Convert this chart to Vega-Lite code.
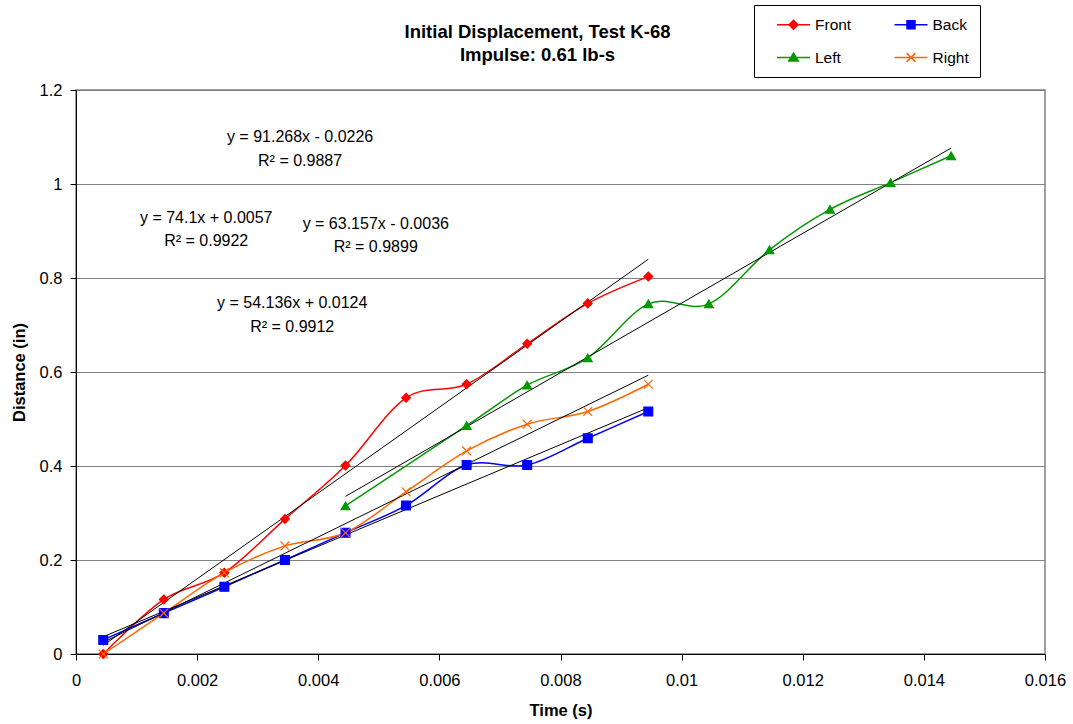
{
  "$schema": "https://vega.github.io/schema/vega-lite/v6.json",
  "width": 969,
  "height": 564,
  "autosize": {"type": "none"},
  "padding": {"left": 76, "top": 90, "right": 28, "bottom": 70},
  "background": "white",
  "config": {
    "font": "Liberation Sans",
    "view": {"stroke": "#808080", "strokeWidth": 1.5}
  },
  "title": {
    "text": ["Initial Displacement, Test K-68", "Impulse: 0.61 lb-s"],
    "anchor": "middle",
    "dx": -23,
    "offset": -60,
    "fontSize": 18.5,
    "font": "Liberation Sans",
    "fontWeight": "bold",
    "color": "black",
    "lineHeight": 23
  },
  "datasets": {
    "obs": [
      {"series": "Front", "t": 0.00045, "d": 0},
      {"series": "Front", "t": 0.00145, "d": 0.116},
      {"series": "Front", "t": 0.00245, "d": 0.173},
      {"series": "Front", "t": 0.00345, "d": 0.287},
      {"series": "Front", "t": 0.00445, "d": 0.401},
      {"series": "Front", "t": 0.00545, "d": 0.545},
      {"series": "Front", "t": 0.00645, "d": 0.574},
      {"series": "Front", "t": 0.00745, "d": 0.66},
      {"series": "Front", "t": 0.00845, "d": 0.746},
      {"series": "Front", "t": 0.00945, "d": 0.803},
      {"series": "Back", "t": 0.00045, "d": 0.03},
      {"series": "Back", "t": 0.00145, "d": 0.087},
      {"series": "Back", "t": 0.00245, "d": 0.143},
      {"series": "Back", "t": 0.00345, "d": 0.2},
      {"series": "Back", "t": 0.00445, "d": 0.258},
      {"series": "Back", "t": 0.00545, "d": 0.316},
      {"series": "Back", "t": 0.00645, "d": 0.402},
      {"series": "Back", "t": 0.00745, "d": 0.402},
      {"series": "Back", "t": 0.00845, "d": 0.459},
      {"series": "Back", "t": 0.00945, "d": 0.516},
      {"series": "Left", "t": 0.00445, "d": 0.315},
      {"series": "Left", "t": 0.00645, "d": 0.486},
      {"series": "Left", "t": 0.00745, "d": 0.572},
      {"series": "Left", "t": 0.00845, "d": 0.63},
      {"series": "Left", "t": 0.00945, "d": 0.745},
      {"series": "Left", "t": 0.01045, "d": 0.745},
      {"series": "Left", "t": 0.01145, "d": 0.86},
      {"series": "Left", "t": 0.01245, "d": 0.946},
      {"series": "Left", "t": 0.01345, "d": 1.003},
      {"series": "Left", "t": 0.01445, "d": 1.06},
      {"series": "Right", "t": 0.00045, "d": 0},
      {"series": "Right", "t": 0.00145, "d": 0.087},
      {"series": "Right", "t": 0.00245, "d": 0.173},
      {"series": "Right", "t": 0.00345, "d": 0.23},
      {"series": "Right", "t": 0.00445, "d": 0.258},
      {"series": "Right", "t": 0.00545, "d": 0.345},
      {"series": "Right", "t": 0.00645, "d": 0.432},
      {"series": "Right", "t": 0.00745, "d": 0.489},
      {"series": "Right", "t": 0.00845, "d": 0.516},
      {"series": "Right", "t": 0.00945, "d": 0.574}
    ],
    "trend": [
      {"series": "Front", "t": 0.00045, "d": 0.0185},
      {"series": "Front", "t": 0.00945, "d": 0.8399},
      {"series": "Back", "t": 0.00045, "d": 0.0368},
      {"series": "Back", "t": 0.00945, "d": 0.524},
      {"series": "Left", "t": 0.00445, "d": 0.3354},
      {"series": "Left", "t": 0.01445, "d": 1.0765},
      {"series": "Right", "t": 0.00045, "d": 0.0248},
      {"series": "Right", "t": 0.00945, "d": 0.5932}
    ],
    "eqs": [
      {"t": 0.0037, "d": 1.1, "label": "y = 91.268x - 0.0226\nR² = 0.9887"},
      {"t": 0.00215, "d": 0.9277, "label": "y = 74.1x + 0.0057\nR² = 0.9922"},
      {"t": 0.00495, "d": 0.9149, "label": "y = 63.157x - 0.0036\nR² = 0.9899"},
      {"t": 0.00357, "d": 0.7468, "label": "y = 54.136x + 0.0124\nR² = 0.9912"}
    ]
  },
  "resolve": {"scale": {"shape": "independent", "color": "independent", "stroke": "independent"}},
  "layer": [
    {
      "data": {"name": "obs"},
      "mark": {"type": "line", "interpolate": "cardinal", "strokeWidth": 1.5},
      "encoding": {
        "x": {
          "field": "t", "type": "quantitative",
          "scale": {"domain": [0, 0.016], "nice": false, "zero": false},
          "axis": {
            "title": "Time (s)",
            "values": [0, 0.002, 0.004, 0.006, 0.008, 0.01, 0.012, 0.014, 0.016],
            "format": "~g",
            "grid": false,
            "domainColor": "black", "tickColor": "black",
            "tickSize": 6, "labelPadding": 12,
            "labelFontSize": 16.5, "labelColor": "black", "labelFont": "Liberation Sans",
            "labelFlush": false,
            "titleFontSize": 16.5, "titleFontWeight": "bold", "titleColor": "black",
            "titleFont": "Liberation Sans", "titlePadding": 14
          }
        },
        "y": {
          "field": "d", "type": "quantitative",
          "scale": {"domain": [0, 1.2], "nice": false},
          "axis": {
            "title": "Distance (in)",
            "values": [0, 0.2, 0.4, 0.6, 0.8, 1, 1.2],
            "format": "~g",
            "grid": true, "gridColor": "#808080", "gridWidth": 1, "gridOpacity": 1,
            "domainColor": "black", "tickColor": "black",
            "tickSize": 6, "labelPadding": 8,
            "labelFontSize": 16.5, "labelColor": "black", "labelFont": "Liberation Sans",
            "labelFlush": false,
            "titleFontSize": 16.5, "titleFontWeight": "bold", "titleColor": "black",
            "titleFont": "Liberation Sans", "titlePadding": 12
          }
        },
        "color": {
          "field": "series", "type": "nominal",
          "scale": {"domain": ["Front", "Back", "Left", "Right"], "range": ["#FF0000", "#0000FF", "#009900", "#FF6600"]},
          "legend": null
        }
      }
    },
    {
      "data": {"name": "trend"},
      "mark": {"type": "line", "color": "black", "strokeWidth": 1},
      "encoding": {
        "x": {"field": "t", "type": "quantitative"},
        "y": {"field": "d", "type": "quantitative"},
        "detail": {"field": "series", "type": "nominal"}
      }
    },
    {
      "data": {"name": "obs"},
      "mark": {"type": "point", "filled": true, "size": 78, "strokeWidth": 1.2, "opacity": 1},
      "encoding": {
        "x": {"field": "t", "type": "quantitative"},
        "y": {"field": "d", "type": "quantitative"},
        "color": {
          "field": "series", "type": "nominal",
          "scale": {"domain": ["Front", "Back", "Left", "Right"], "range": ["#FF0000", "#0000FF", "#009900", "#FF6600"]},
          "legend": null
        },
        "stroke": {
          "field": "series", "type": "nominal",
          "scale": {"domain": ["Front", "Back", "Left", "Right"], "range": ["#FF0000", "#0000FF", "#009900", "#FF6600"]},
          "legend": null
        },
        "shape": {
          "field": "series", "type": "nominal",
          "scale": {"domain": ["Front", "Back", "Left", "Right"], "range": ["diamond", "square", "triangle-up", "M-1,-1L1,1M-1,1L1,-1"]},
          "legend": null
        }
      }
    },
    {
      "data": {"name": "obs"},
      "mark": {"type": "point", "filled": true, "opacity": 0, "strokeWidth": 1.5},
      "encoding": {
        "x": {"field": "t", "type": "quantitative"},
        "y": {"field": "d", "type": "quantitative"},
        "color": {
          "field": "series", "type": "nominal",
          "scale": {"domain": ["Front", "Back", "Left", "Right"], "range": ["#FF0000", "#0000FF", "#009900", "#FF6600"]},
          "legend": {
            "title": null,
            "orient": "none",
            "legendX": 678,
            "legendY": -85,
            "direction": "horizontal",
            "columns": 2,
            "strokeColor": "black",
            "fillColor": "white",
            "padding": 10.5,
            "symbolSize": 256,
            "symbolOffset": 20,
            "labelOffset": 12.5,
            "columnPadding": 30.5,
            "rowPadding": 15,
            "symbolStrokeWidth": 1.5,
            "symbolOpacity": 1,
            "labelFontSize": 15.5,
            "labelFont": "Liberation Sans",
            "labelColor": "black",
            "labelExpr": "datum.label === 'Back' || datum.label === 'Right' ? datum.label + '      ' : datum.label"
          }
        },
        "stroke": {
          "field": "series", "type": "nominal",
          "scale": {"domain": ["Front", "Back", "Left", "Right"], "range": ["#FF0000", "#0000FF", "#009900", "#FF6600"]},
          "legend": {
            "title": null,
            "orient": "none",
            "legendX": 678,
            "legendY": -85,
            "direction": "horizontal",
            "columns": 2,
            "strokeColor": "black",
            "fillColor": "white",
            "padding": 10.5,
            "symbolSize": 256,
            "symbolOffset": 20,
            "labelOffset": 12.5,
            "columnPadding": 30.5,
            "rowPadding": 15,
            "symbolStrokeWidth": 1.5,
            "symbolOpacity": 1,
            "labelFontSize": 15.5,
            "labelFont": "Liberation Sans",
            "labelColor": "black",
            "labelExpr": "datum.label === 'Back' || datum.label === 'Right' ? datum.label + '      ' : datum.label"
          }
        },
        "shape": {
          "field": "series", "type": "nominal",
          "scale": {
            "domain": ["Front", "Back", "Left", "Right"],
            "range": [
              "M-2.06,0H2.06M0,-0.55L0.55,0L0,0.55L-0.55,0Z",
              "M-2.06,0H2.06M-0.5,-0.5H0.5V0.5H-0.5Z",
              "M-2.06,0H2.06M0,-0.55L0.6,0.45H-0.6Z",
              "M-2.06,0H2.06M-0.55,-0.55L0.55,0.55M-0.55,0.55L0.55,-0.55"
            ]
          },
          "legend": {
            "title": null,
            "orient": "none",
            "legendX": 678,
            "legendY": -85,
            "direction": "horizontal",
            "columns": 2,
            "strokeColor": "black",
            "fillColor": "white",
            "padding": 10.5,
            "symbolSize": 256,
            "symbolOffset": 20,
            "labelOffset": 12.5,
            "columnPadding": 30.5,
            "rowPadding": 15,
            "symbolStrokeWidth": 1.5,
            "symbolOpacity": 1,
            "labelFontSize": 15.5,
            "labelFont": "Liberation Sans",
            "labelColor": "black",
            "labelExpr": "datum.label === 'Back' || datum.label === 'Right' ? datum.label + '      ' : datum.label"
          }
        }
      }
    },
    {
      "data": {"name": "eqs"},
      "mark": {"type": "text", "fontSize": 16, "font": "Liberation Sans", "color": "black", "lineBreak": "\n", "lineHeight": 23.5, "align": "center", "baseline": "middle"},
      "encoding": {
        "x": {"field": "t", "type": "quantitative"},
        "y": {"field": "d", "type": "quantitative"},
        "text": {"field": "label"}
      }
    }
  ]
}
